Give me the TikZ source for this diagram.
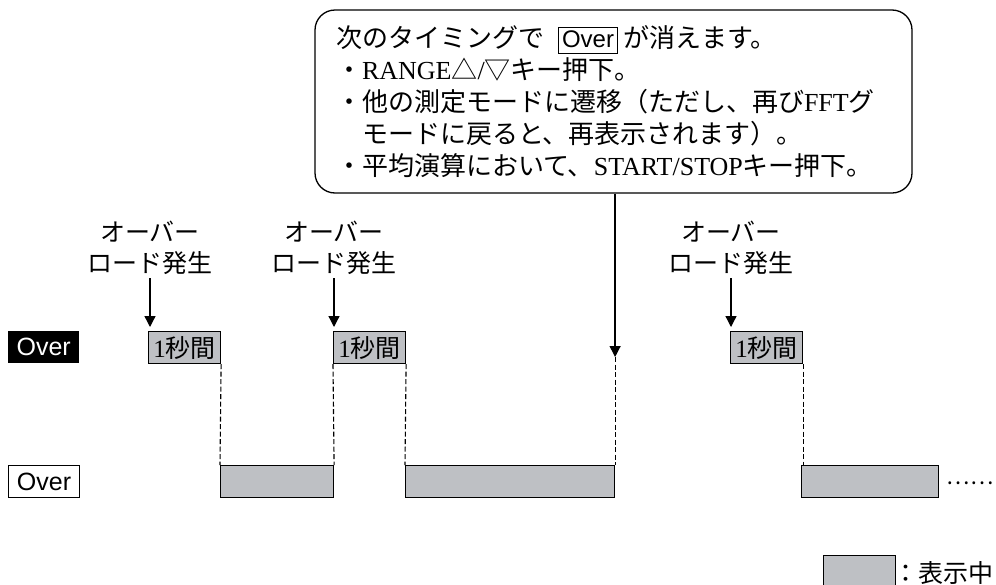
\documentclass[tikz,border=0pt]{standalone}
\usepackage{fontspec}
\setmainfont{Noto Sans CJK JP}
\setsansfont{Liberation Sans}
\newfontfamily\latin{Liberation Serif}
\usetikzlibrary{arrows.meta,positioning}
\definecolor{barfill}{RGB}{190,192,196}
\setlength{\fboxrule}{1pt}
\setlength{\fboxsep}{3pt}
\newcommand\ovtag{{\sffamily\fontsize{24pt}{24pt}\selectfont\fbox{\rule[-3pt]{0pt}{19pt}Over}}}

\begin{document}
\begin{tikzpicture}[x=1pt,y=-1pt,
  msgbox/.style={draw,line width=1.3pt,rounded corners=20pt,text width=555pt,align=left,inner xsep=21pt,inner ysep=0pt,minimum height=183pt,font=\fontsize{26}{32}\selectfont},
  evlbl/.style={align=center,font=\fontsize{25}{31}\selectfont},
  sec/.style={draw,fill=barfill,line width=1.1pt,inner sep=0pt,minimum width=72pt,minimum height=32pt,anchor=north west,font=\fontsize{25}{25}\selectfont},
  bar/.style={draw,fill=barfill,line width=1.1pt,inner sep=0pt,minimum height=32pt,anchor=north west},
  tag/.style={inner sep=0pt,minimum width=71pt,minimum height=32pt,anchor=north west,font=\sffamily\fontsize{25}{25}\selectfont},
  evt/.style={-{Triangle[length=11pt,width=11pt]},line width=1.3pt},
  guide/.style={line width=1.1pt,dash pattern=on 5pt off 2.5pt}]
\useasboundingbox (0,0) rectangle (996,584);
\clip (0,0) rectangle (996,584);

% callout
\node[msgbox] (msg) at (613.5,101.5)
 {次のタイミングで\hspace{14pt}\ovtag\hspace{5pt}が消えます。\\
  ・{\latin RANGE}△{\latin /}▽キー押下。\\
  ・他の測定モードに遷移（ただし、再び{\latin FFT}グ\\
  \hspace*{26pt}モードに戻ると、再表示されます）。\\
  ・平均演算において、{\latin START/STOP}キー押下。};

% overload events
\node[evlbl] (ev1) at (150,248) {オーバー\\ロード発生};
\node[evlbl] (ev2) at (334,248) {オーバー\\ロード発生};
\node[evlbl] (ev3) at (731,248) {オーバー\\ロード発生};

\node[tag,fill=black,text=white] (on) at (8,331) {Over};
\node[sec] (s1) at (148,331) {{\latin 1}秒間};
\node[sec] (s2) at (333,331) {{\latin 1}秒間};
\node[sec] (s3) at (730,331) {{\latin 1}秒間};

\node[tag,draw,line width=1.1pt] (off) at (8,465) {Over};
\node[bar,minimum width=113pt] (b1) at (220,465) {};
\node[bar,minimum width=209pt] (b2) at (405,465) {};
\node[bar,minimum width=137pt] (b3) at (801,465) {};
\node[inner sep=0pt,font=\fontsize{22}{22}\selectfont] (more) at (970,483) {……};

\draw[evt,shorten >=4pt] (ev1.south) -- (ev1.south |- s1.north);
\draw[evt,shorten >=4pt] (ev2.south) -- (ev2.south |- s2.north);
\draw[evt,shorten >=4pt] (ev3.south) -- (ev3.south |- s3.north);
\draw[evt] (msg.south -| b2.north east) -- ([yshift=108pt]b2.north east) coordinate (hit);

\draw[guide] (s1.south east) -- (b1.north west);
\draw[guide] (s2.south west) -- (b1.north east);
\draw[guide] (s2.south east) -- (b2.north west);
\draw[guide] (hit) -- (b2.north east);
\draw[guide] (s3.south east) -- (s3.south east |- b3.north);

% legend
\node[bar,minimum width=72pt,minimum height=35pt] (key) at (823,555) {};
\node[anchor=base west,inner sep=0pt,font=\fontsize{25}{25}\selectfont] (keytxt) at (893,582) {：表示中};
\end{tikzpicture}
\end{document}
